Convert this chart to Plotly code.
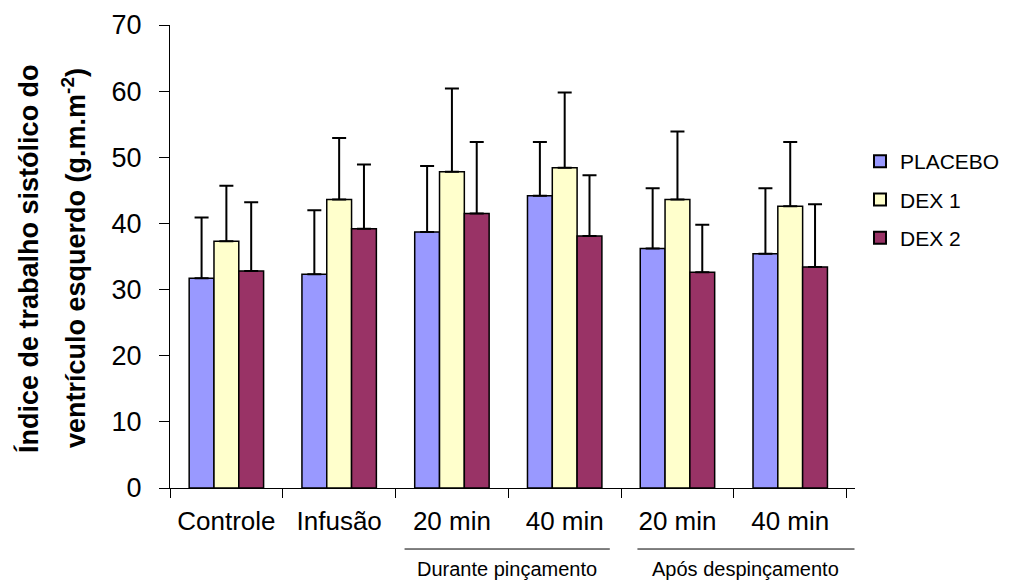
import plotly.graph_objects as go

categories = ["Controle", "Infusão", "20 min ", "40 min ", "20 min", "40 min"]
tick_labels = ["Controle", "Infusão", "20 min", "40 min", "20 min", "40 min"]
series_names = ["PLACEBO", "DEX 1", "DEX 2"]
placebo_mean = [31.7, 32.3, 38.7, 44.2, 36.2, 35.4]
placebo_upper = [40.9, 42.0, 48.7, 52.3, 45.3, 45.3]
dex1_mean = [37.3, 43.6, 47.8, 48.4, 43.6, 42.6]
dex1_upper = [45.7, 52.9, 60.4, 59.8, 53.9, 52.3]
dex2_mean = [32.8, 39.2, 41.5, 38.1, 32.6, 33.4]
dex2_upper = [43.2, 48.9, 52.3, 47.3, 39.8, 42.9]
colors = ["#9999FF", "#FFFFCC", "#993366"]
group_labels = ["Durante pinçamento", "Após despinçamento"]
title_lines = ["Índice de trabalho sistólico do",
               "ventrículo esquerdo (g.m.m<sup>-2</sup>)"]

FONT = "Liberation Sans, Arial, sans-serif"

fig = go.Figure()
for name, mean, upper, col in zip(series_names,
                                  [placebo_mean, dex1_mean, dex2_mean],
                                  [placebo_upper, dex1_upper, dex2_upper],
                                  colors):
    fig.add_trace(go.Bar(
        x=categories, y=mean, name=name, legendgroup=name,
        marker=dict(color=col, line=dict(color="black", width=1.5)),
        error_y=dict(type="data", symmetric=False,
                     array=[u - m for u, m in zip(upper, mean)],
                     arrayminus=[0] * len(mean),
                     color="black", thickness=2, width=7),
    ))

fig.update_layout(
    width=1016, height=580,
    margin=dict(l=170, r=0, t=25, b=92),
    paper_bgcolor="white", plot_bgcolor="white",
    barmode="group", bargap=0.34, bargroupgap=0,
    font=dict(family=FONT, color="black"),
    showlegend=True,
    legend=dict(x=0.8156, y=0.7495, xanchor="left", yanchor="top",
                font=dict(size=21, family=FONT), tracegroupgap=8,
                itemsizing="constant", bgcolor="rgba(0,0,0,0)", borderwidth=0),
)
fig.update_xaxes(
    domain=[0, 0.8097],
    type="category", categoryorder="array", categoryarray=categories,
    tickvals=categories, ticktext=tick_labels,
    showline=True, linecolor="black", linewidth=1,
    ticks="outside", tickson="boundaries", ticklen=9, tickcolor="black",
    ticklabelstandoff=10,
    tickfont=dict(size=26, family=FONT), showgrid=False,
)
fig.update_yaxes(
    range=[0, 70], dtick=10, showline=True, linecolor="black", linewidth=1,
    ticks="outside", ticklen=10, tickcolor="black", ticklabelstandoff=12,
    tickfont=dict(size=27, family=FONT), showgrid=False, zeroline=False,
)

for xpos, line in zip([-0.1667, -0.1135], title_lines):
    fig.add_annotation(
        text="<b>" + line + "</b>",
        xref="paper", yref="paper", x=xpos, y=0.4968, textangle=-90,
        showarrow=False, font=dict(size=27, family=FONT),
        xanchor="center", yanchor="middle",
    )

for (x0, x1), xc, lab in zip([(1.58, 3.40), (3.645, 5.57)], [2.485, 4.6], group_labels):
    fig.add_shape(type="line", xref="x", yref="paper", x0=x0, x1=x1,
                  y0=-0.1318, y1=-0.1318, line=dict(color="black", width=1))
    fig.add_annotation(text=lab, xref="x", yref="paper", x=xc, y=-0.175,
                       showarrow=False, font=dict(size=20, family=FONT),
                       xanchor="center", yanchor="middle")

fig.write_html("out.html", config={"displayModeBar": False},
               post_script="document.body.style.margin='0';")
